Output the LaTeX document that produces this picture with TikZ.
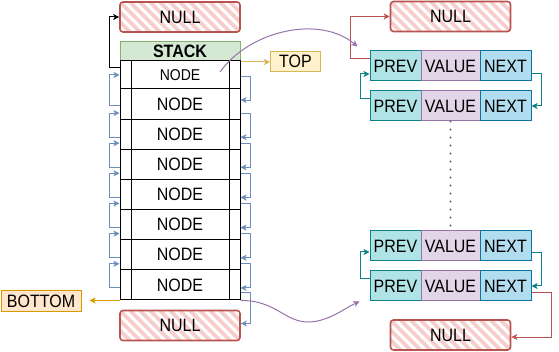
\documentclass[tikz,border=0pt]{standalone}
\usepackage{fontspec}
\usepackage{graphicx}
\setmainfont{Liberation Sans}
\usetikzlibrary{arrows.meta,calc}

\definecolor{nullred}{HTML}{B85450}
\definecolor{nullpink}{HTML}{F8CECC}
\definecolor{stackgreen}{HTML}{82B366}
\definecolor{stackfill}{HTML}{D5E8D4}
\definecolor{linkblue}{HTML}{6C8EBF}
\definecolor{topfill}{HTML}{FFF2CC}
\definecolor{topline}{HTML}{D6B656}
\definecolor{botfill}{HTML}{FFE6CC}
\definecolor{botline}{HTML}{D79B00}
\definecolor{prevfill}{HTML}{B0E3E6}
\definecolor{prevline}{HTML}{0E8088}
\definecolor{valfill}{HTML}{E1D5E7}
\definecolor{valline}{HTML}{9673A6}
\definecolor{nextfill}{HTML}{B1DDF0}
\definecolor{nextline}{HTML}{10739E}
\definecolor{dotcol}{HTML}{6A6394}

% slightly taller lettering
\newcommand\tall[1]{\scalebox{1}[1.12]{#1}}

\begin{document}
\begin{tikzpicture}[x=1pt,y=-1pt,
  every node/.style={inner sep=0pt,font=\fontsize{16}{19}\selectfont},
  tip/.style={-{Stealth[length=6pt,width=6pt,inset=1.5pt]}},
  link/.style={tip,line width=1pt,rounded corners=0pt},
  bluelink/.style={link,draw=linkblue},
  nullbox/.style={draw=nullred,line width=1.6pt,rounded corners=3pt,
    minimum width=120pt,minimum height=30pt,fill=white,
    path picture={\foreach \k in {-4,...,14}
      \draw[nullpink,line width=3.8pt]
        ([xshift=\k*10pt]path picture bounding box.north west) -- ++(40pt,-40pt);}},
  rowbox/.style={draw,line width=1pt,fill=white,minimum width=120pt,minimum height=30.14pt,
    path picture={
      \draw[line width=0.8pt]
        ([xshift=11pt]path picture bounding box.north west) --
        ([xshift=11pt]path picture bounding box.south west);
      \draw[line width=0.8pt]
        ([xshift=-11pt]path picture bounding box.north east) --
        ([xshift=-11pt]path picture bounding box.south east);}},
  cell/.style={line width=1pt,minimum height=30pt},
  prevcell/.style={cell,draw=prevline,fill=prevfill,minimum width=51pt},
  valcell/.style={cell,draw=valline,fill=valfill,minimum width=59pt},
  nextcell/.style={cell,draw=nextline,fill=nextfill,minimum width=51pt},
  ptr/.style={tip,line width=1pt,draw=valline}
]
\useasboundingbox (0,0) rectangle (559,352);

% ---------- stack ----------
\draw[stackgreen,line width=1pt,fill=white] (120,42) rectangle (240,300);
\node[draw=stackgreen,fill=stackfill,line width=1pt,minimum width=120pt,minimum height=19.5pt,
  font=\bfseries\fontsize{16}{19}\selectfont] (stack) at (180,51.75) {\tall{STACK}};
\node[rowbox,minimum height=28pt,font=\fontsize{14}{16}\selectfont] (r1) at (180,75) {\tall{NODE}};
\foreach \i in {2,...,8}
  \node[rowbox] (r\i) at (180,{104.07+30.14*(\i-2)}) {\tall{NODE}};

\node[nullbox] (nullT) at (180,17) {\tall{NULL}};
\node[nullbox] (nullB) at (180,325.5) {\tall{NULL}};

\node[draw=topline,fill=topfill,line width=1pt,minimum width=50pt,minimum height=20pt]
  (topbox) at (295.5,61.75) {\tall{TOP}};
\node[draw=botline,fill=botfill,line width=1pt,minimum width=80pt,minimum height=20.5pt]
  (botbox) at (41,301.25) {\tall{BOTTOM}};

% links between stack entries
\draw[link,draw=black] ([yshift=7pt]r1.west) -- ++(-10,0) |- (nullT.west);
\draw[bluelink] ([yshift=-1pt]r2.west) -- ++(-10,0) |- (r1.west);
\foreach \i [evaluate=\i as \j using int(\i-1)] in {3,...,8}
  \draw[bluelink] ([yshift=-3pt]r\i.west) -- ++(-10,0) |- ([yshift=-9pt]r\j.west);
\draw[bluelink] ([yshift=-2pt]r1.east) -- ++(10,0) |- ([yshift=4pt]r2.east);
\foreach \i [evaluate=\i as \j using int(\i+1)] in {2,...,7}
  \draw[bluelink] ([yshift=-9pt]r\i.east) -- ++(10,0) |- ([yshift=-3pt]r\j.east);
\draw[bluelink] ([yshift=-8pt]r8.east) -- ++(10,0) |- ([yshift=2pt]nullB.east);

\draw[link,draw=topline] (stack.south east) -- (stack.south east -| topbox.west);
\coordinate (botend) at ([xshift=8pt]botbox.east);
\draw[link,draw=botline] (r8.south west) -- (r8.south west -| botend);

% ---------- doubly linked list ----------
\foreach \n/\y in {1/66,2/106,3/246,4/286}{
  \node[prevcell] (p\n) at (395.5,\y) {\tall{PREV}};
  \node[valcell]  (v\n) at (450.5,\y) {\tall{VALUE}};
  \node[nextcell] (n\n) at (505.5,\y) {\tall{NEXT}};
}
\node[nullbox] (nullR1) at (450.5,16.5) {\tall{NULL}};
\node[nullbox] (nullR2) at (450.5,335) {\tall{NULL}};

\draw[link,draw=nullred] ([yshift=7pt]p1.west) -- ++(-19,0) |- (nullR1.west);
\draw[link,draw=prevline] ([yshift=7pt]p2.west) -- ++(-9,0) |- ([yshift=-8pt]p1.west);
\draw[link,draw=prevline] ([yshift=-8pt]n1.east) -- ++(10,0) |- (n2.east);
\draw[link,draw=prevline] ([yshift=7pt]p4.west) -- ++(-9,0) |- ([yshift=-6pt]p3.west);
\draw[link,draw=prevline] ([yshift=-7pt]n3.east) -- ++(10,0) |- (n4.east);
\draw[link,draw=nullred] ([yshift=-7pt]n4.east) -- ++(20,0) |- ([yshift=-2pt]nullR2.east);

\draw[dotcol,line width=2.3pt,line cap=round,dash pattern=on 0pt off 8pt] (v2.south) -- (v3.north);

% stack ends pointing into the list
\coordinate (topsrc) at (220,72);
\coordinate (topdst) at ([xshift=-12pt,yshift=4pt]p1.north west);
\draw[ptr] (topsrc) .. controls (250,30) and (320,15) .. (topdst);
\coordinate (botdst) at ([xshift=-10pt,yshift=0pt]p4.south west);
\draw[ptr] (r8.south east) .. controls (275,300) and (285,322) .. (308,322)
  .. controls (328,322) and (345,308) .. (botdst);
\end{tikzpicture}
\end{document}
